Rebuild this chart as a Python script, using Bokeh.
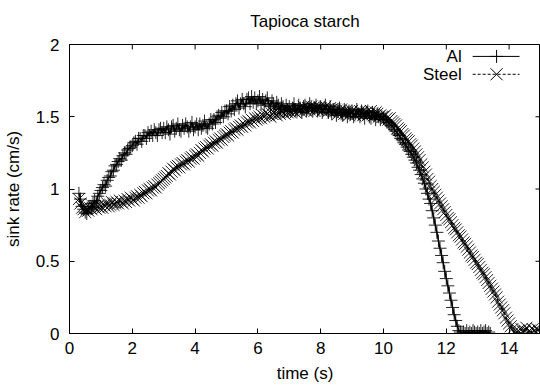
import numpy as np
from bokeh.plotting import figure
from bokeh.models import Range1d, FixedTicker, CustomJSTickFormatter
from bokeh.core.properties import value
from bokeh.embed import file_html
from bokeh.resources import INLINE

# ---------------- data ----------------
title_text = "Tapioca starch"
x_label = "time (s)"
y_label = "sink rate (cm/s)"
series_names = ["Al", "Steel"]
x_ticks = [0, 2, 4, 6, 8, 10, 12, 14]
y_ticks = [0, 0.5, 1, 1.5, 2]

sample_step = 0.05
al_start = 0.30
al_values = [
    0.97, 0.93, 0.88, 0.86, 0.84, 0.83, 0.86, 0.88, 0.87, 0.90, 0.92, 0.91, 0.95, 0.97,
    0.99, 1.01, 1.03, 1.02, 1.06, 1.08, 1.09, 1.12, 1.13, 1.16, 1.17, 1.19, 1.21, 1.20, 1.23, 1.25, 1.24, 1.27, 1.28, 1.29,
    1.30, 1.32, 1.33, 1.31, 1.35, 1.35, 1.33, 1.37, 1.37, 1.35, 1.39, 1.37, 1.40, 1.37, 1.41, 1.39, 1.37, 1.41, 1.42, 1.39,
    1.42, 1.39, 1.43, 1.41, 1.38, 1.43, 1.44, 1.40, 1.42, 1.45, 1.41, 1.40, 1.44, 1.42, 1.45, 1.43, 1.40, 1.43, 1.46, 1.41,
    1.43, 1.45, 1.41, 1.45, 1.42, 1.44, 1.47, 1.43, 1.42, 1.45, 1.48, 1.45, 1.48, 1.46, 1.50, 1.51, 1.49, 1.53, 1.50, 1.54,
    1.54, 1.52, 1.57, 1.54, 1.58, 1.55, 1.59, 1.61, 1.56, 1.59, 1.62, 1.59, 1.57, 1.62, 1.63, 1.59, 1.64, 1.60, 1.63, 1.59,
    1.61, 1.64, 1.59, 1.62, 1.58, 1.61, 1.63, 1.59, 1.57, 1.61, 1.59, 1.56, 1.60, 1.58, 1.55, 1.59, 1.57, 1.54, 1.58, 1.55,
    1.57, 1.54, 1.56, 1.59, 1.55, 1.54, 1.58, 1.56, 1.53, 1.57, 1.58, 1.54, 1.56, 1.59, 1.57, 1.54, 1.56, 1.58, 1.54, 1.56,
    1.57, 1.53, 1.55, 1.58, 1.55, 1.53, 1.57, 1.52, 1.55, 1.54, 1.51, 1.55, 1.56, 1.52, 1.51, 1.55, 1.53, 1.50, 1.54, 1.52,
    1.54, 1.50, 1.52, 1.55, 1.52, 1.50, 1.54, 1.52, 1.49, 1.53, 1.54, 1.50, 1.49, 1.53, 1.51, 1.48, 1.52, 1.50, 1.48, 1.50,
    1.49, 1.48, 1.47, 1.46, 1.45, 1.44, 1.43, 1.41, 1.40, 1.38, 1.37, 1.35, 1.34, 1.32, 1.31, 1.29, 1.27, 1.26, 1.24, 1.22,
    1.20, 1.18, 1.15, 1.13, 1.10, 1.07, 1.04, 1.00, 0.97, 0.93, 0.90, 0.85, 0.80, 0.75, 0.70, 0.64, 0.59, 0.54, 0.49, 0.43,
    0.38, 0.33, 0.28, 0.23, 0.18, 0.13, 0.09, 0.05, 0.02, 0.01, 0.00, 0.01, 0.00, 0.02, 0.00, 0.01, 0.00, 0.02, 0.01, 0.00,
    0.01, 0.00, 0.02, 0.00, 0.01, 0.02, 0.00, 0.01, 0.00,
]
steel_start = 0.30
steel_values = [
    0.93, 0.90, 0.87, 0.86, 0.84, 0.86, 0.85, 0.87, 0.86, 0.88, 0.87, 0.86, 0.88, 0.87,
    0.88, 0.87, 0.89, 0.88, 0.90, 0.88, 0.89, 0.91, 0.89, 0.90, 0.91, 0.90, 0.92, 0.91, 0.90, 0.92, 0.91, 0.93, 0.92, 0.94,
    0.93, 0.92, 0.94, 0.95, 0.94, 0.96, 0.95, 0.97, 0.98, 0.97, 0.99, 1.00, 0.99, 1.01, 1.02, 1.01, 1.03, 1.04, 1.05, 1.06,
    1.07, 1.08, 1.09, 1.11, 1.10, 1.12, 1.14, 1.13, 1.15, 1.16, 1.15, 1.17, 1.18, 1.17, 1.19, 1.20, 1.19, 1.21, 1.22, 1.21,
    1.23, 1.24, 1.23, 1.25, 1.27, 1.26, 1.28, 1.29, 1.28, 1.30, 1.31, 1.30, 1.32, 1.33, 1.32, 1.34, 1.35, 1.34, 1.36, 1.37,
    1.38, 1.37, 1.39, 1.40, 1.39, 1.41, 1.42, 1.41, 1.43, 1.44, 1.43, 1.45, 1.44, 1.46, 1.47, 1.46, 1.48, 1.47, 1.49, 1.48,
    1.49, 1.50, 1.49, 1.51, 1.50, 1.51, 1.52, 1.51, 1.50, 1.52, 1.53, 1.52, 1.51, 1.53, 1.52, 1.54, 1.53, 1.52, 1.54, 1.53,
    1.54, 1.53, 1.55, 1.54, 1.53, 1.55, 1.56, 1.54, 1.55, 1.57, 1.55, 1.54, 1.56, 1.55, 1.57, 1.56, 1.54, 1.56, 1.55, 1.57,
    1.56, 1.54, 1.55, 1.57, 1.55, 1.54, 1.56, 1.55, 1.53, 1.55, 1.54, 1.52, 1.54, 1.55, 1.53, 1.52, 1.54, 1.53, 1.51, 1.53,
    1.54, 1.52, 1.51, 1.53, 1.52, 1.54, 1.53, 1.51, 1.52, 1.53, 1.51, 1.52, 1.54, 1.52, 1.51, 1.53, 1.52, 1.50, 1.51, 1.50,
    1.50, 1.51, 1.49, 1.48, 1.49, 1.47, 1.46, 1.45, 1.44, 1.42, 1.41, 1.40, 1.38, 1.37, 1.35, 1.34, 1.33, 1.31, 1.30, 1.28,
    1.26, 1.24, 1.22, 1.20, 1.17, 1.15, 1.12, 1.10, 1.07, 1.05, 1.02, 1.00, 0.98, 0.96, 0.94, 0.92, 0.90, 0.88, 0.86, 0.84,
    0.82, 0.80, 0.79, 0.77, 0.75, 0.73, 0.72, 0.70, 0.68, 0.67, 0.65, 0.63, 0.62, 0.60, 0.58, 0.56, 0.54, 0.53, 0.51, 0.49,
    0.48, 0.46, 0.44, 0.42, 0.41, 0.39, 0.37, 0.35, 0.33, 0.31, 0.29, 0.27, 0.25, 0.22, 0.20, 0.18, 0.16, 0.14, 0.11, 0.09,
    0.07, 0.05, 0.03, 0.01, 0.00, 0.01, 0.02, 0.00, 0.03, 0.01, 0.02, 0.04, 0.01, 0.02, 0.00, 0.03, 0.02, 0.01, 0.03, 0.02,
    0.01,
]

al_time = np.round(al_start + sample_step * np.arange(len(al_values)), 2)
steel_time = np.round(steel_start + sample_step * np.arange(len(steel_values)), 2)

# ---------------- layout constants ----------------
W, H = 540, 388
FL, FR, FT, FB = 68, 540, 42, 333
X_MIN, X_MAX, Y_MIN, Y_MAX = 0, 15, 0, 2
FONT = "Liberation Sans"
FS = "17px"
TICK = 5  # px


def px_x(px):
    return X_MIN + (px - FL) / (FR - FL) * (X_MAX - X_MIN)


def px_y(py):
    return Y_MIN + (FB - py) / (FB - FT) * (Y_MAX - Y_MIN)


p = figure(width=W, height=H, x_range=Range1d(X_MIN, X_MAX), y_range=Range1d(Y_MIN, Y_MAX),
           output_backend="svg", toolbar_location=None,
           min_border_left=FL, min_border_right=W - FR, min_border_top=FT, min_border_bottom=H - FB)
p.background_fill_color = "white"
p.border_fill_color = "white"
p.xgrid.visible = False
p.ygrid.visible = False
p.outline_line_color = "black"
p.outline_line_width = 1

p.title.text = title_text
p.title.align = "center"
p.title.text_font = FONT
p.title.text_font_size = FS
p.title.text_font_style = "normal"
p.title.text_color = "black"
p.title.vertical_align = "top"
p.title.standoff = 23


def style_axis(ax):
    ax.major_tick_in = TICK
    ax.major_tick_out = 0
    ax.minor_tick_in = 0
    ax.minor_tick_out = 0
    ax.axis_line_color = "black"
    ax.major_tick_line_color = "black"
    ax.major_label_text_font = FONT
    ax.major_label_text_font_size = FS
    ax.major_label_text_color = "black"
    ax.axis_label_text_font = FONT
    ax.axis_label_text_font_size = FS
    ax.axis_label_text_font_style = "normal"
    ax.axis_label_text_color = "black"


xa = p.xaxis[0]
ya = p.yaxis[0]
style_axis(xa)
style_axis(ya)
xa.ticker = FixedTicker(ticks=x_ticks)
ya.ticker = FixedTicker(ticks=y_ticks)
ya.formatter = CustomJSTickFormatter(code="return tick.toString();")
xa.axis_label = x_label
ya.axis_label = y_label
xa.major_label_standoff = 8
xa.axis_label_standoff = 7
ya.major_label_standoff = 10
ya.axis_label_standoff = 10

# mirrored inward ticks on top and right border (gnuplot style)
tick_dy = TICK / (FB - FT) * (Y_MAX - Y_MIN)
tick_dx = TICK / (FR - FL) * (X_MAX - X_MIN)
p.segment(x0=x_ticks, x1=x_ticks, y0=[Y_MAX] * len(x_ticks), y1=[Y_MAX - tick_dy] * len(x_ticks),
          line_color="black", line_width=1)
p.segment(x0=[X_MAX] * len(y_ticks), x1=[X_MAX - tick_dx] * len(y_ticks), y0=y_ticks, y1=y_ticks,
          line_color="black", line_width=1)

# ---------------- data marks ----------------
p.line(al_time, al_values, line_color="black", line_width=1.5)
p.scatter(al_time, al_values, marker="cross", size=13, line_color="black", line_width=1, line_alpha=0.85)
p.line(steel_time, steel_values, line_color="black", line_width=1.5, line_dash="3 2")
p.scatter(steel_time, steel_values, marker="x", size=17, line_color="black", line_width=1, line_alpha=0.85)

# ---------------- legend (gnuplot style: label, then sample) ----------------
row_y = [px_y(54), px_y(72)]
p.text(x=[px_x(461)] * 2, y=row_y, text=series_names, text_align="right", text_baseline="middle",
       text_font=value(FONT), text_font_size=FS, text_color="black")
p.segment(x0=[px_x(472)], x1=[px_x(519)], y0=[row_y[0]], y1=[row_y[0]], line_color="black", line_width=1)
p.segment(x0=[px_x(472)], x1=[px_x(519)], y0=[row_y[1]], y1=[row_y[1]], line_color="black", line_width=1,
          line_dash="3 2")
p.scatter(x=[px_x(496)], y=[row_y[0]], marker="cross", size=13, line_color="black", line_width=1)
p.scatter(x=[px_x(496)], y=[row_y[1]], marker="x", size=17, line_color="black", line_width=1)

open("out.html", "w").write(file_html(p, INLINE))
